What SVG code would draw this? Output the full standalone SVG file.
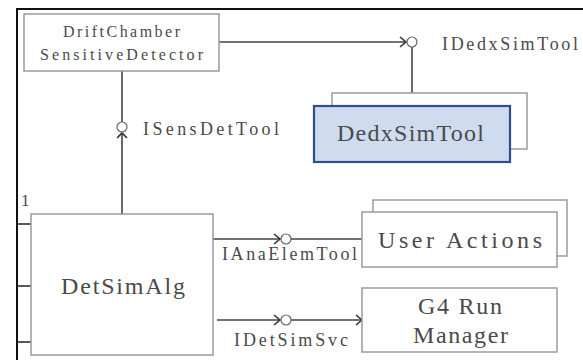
<svg xmlns="http://www.w3.org/2000/svg" width="583" height="360" viewBox="0 0 583 360">
<style>
.t{font-family:"Liberation Serif","DejaVu Serif",serif;fill:#4a4a4a;}
.box{fill:#fff;stroke:#9a9a9a;stroke-width:1.5;}
.ln{fill:none;stroke:#444;stroke-width:1.6;}
.ch{fill:none;stroke:#333;stroke-width:1.6;}
.ball{fill:#fff;stroke:#666;stroke-width:1.2;}
</style>
<rect width="583" height="360" fill="#fff"/>
<g id="frame">
<path d="M17 360 V9 H583" fill="none" stroke="#111" stroke-width="2"/>
<path d="M17 224 H31 M17 286 H31 M17 342 H31" stroke="#222" stroke-width="1.5"/>
<text class="t" x="21" y="206" font-size="17">1</text>
</g>
<g id="connectors">
<path class="ln" d="M219 42 H406"/>
<path class="ch" d="M400 37 L406 42 L400 47"/>
<path class="ln" d="M412 47 V106"/>
<path class="ln" d="M122 71 V122"/>
<path class="ln" d="M122 133 V214"/>
<path class="ch" d="M117 138 L122 133 L127 138"/>
<path class="ln" d="M213 239 H280 M291 239 H362"/>
<path class="ch" d="M274 234 L280 239 L274 244"/>
<path class="ln" d="M217 320 H280 M291 320 H362"/>
<path class="ch" d="M274 315 L280 320 L274 325"/>
<path class="ch" d="M356 315 L362 320 L356 325"/>
<circle class="ball" cx="412" cy="42" r="5"/>
<circle class="ball" cx="122" cy="127" r="5"/>
<circle class="ball" cx="286" cy="239" r="5"/>
<circle class="ball" cx="286" cy="320" r="5"/>
<text class="t" x="442" y="50" font-size="18" textLength="136" lengthAdjust="spacing">IDedxSimTool</text>
<text class="t" x="143" y="135" font-size="18" textLength="136" lengthAdjust="spacing">ISensDetTool</text>
<text class="t" x="222" y="260" font-size="18" textLength="135" lengthAdjust="spacing">IAnaElemTool</text>
<text class="t" x="234" y="346" font-size="18" textLength="114" lengthAdjust="spacing">IDetSimSvc</text>
</g>
<g id="driftchamber">
<rect class="box" x="24" y="14" width="195" height="57"/>
<text class="t" x="63" y="37" font-size="16" textLength="117" lengthAdjust="spacing">DriftChamber</text>
<text class="t" x="40" y="60" font-size="16" textLength="163" lengthAdjust="spacing">SensitiveDetector</text>
</g>
<g id="dedxsimtool">
<rect class="box" x="332" y="93" width="195" height="56"/>
<rect x="314" y="106" width="196" height="56" fill="#cfdcef" stroke="#2f4e8c" stroke-width="2.2"/>
<text class="t" x="337" y="141" font-size="24" textLength="147" lengthAdjust="spacing">DedxSimTool</text>
</g>
<g id="detsimalg">
<rect class="box" x="31" y="214" width="182" height="141"/>
<text class="t" x="61" y="294" font-size="24" textLength="124" lengthAdjust="spacing">DetSimAlg</text>
</g>
<g id="useractions">
<rect class="box" x="373" y="200" width="194" height="56"/>
<rect class="box" x="362" y="212" width="195" height="55"/>
<text class="t" x="378" y="248" font-size="24" textLength="164" lengthAdjust="spacing">User Actions</text>
</g>
<g id="g4runmanager">
<rect class="box" x="362" y="288" width="195" height="64"/>
<text class="t" x="418" y="314" font-size="24" textLength="84" lengthAdjust="spacing">G4 Run</text>
<text class="t" x="413" y="343" font-size="24" textLength="95" lengthAdjust="spacing">Manager</text>
</g>
</svg>
